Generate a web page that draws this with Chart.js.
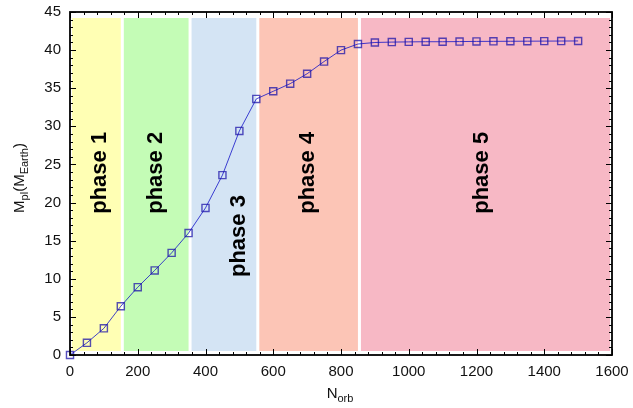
<!DOCTYPE html>
<html>
<head>
<meta charset="utf-8">
<script src="https://cdn.jsdelivr.net/npm/chart.js@4.4.1/dist/chart.umd.min.js"></script>
<style>
  html, body { margin: 0; padding: 0; background: #fff; }
  #wrap { width: 633px; height: 408px; }
</style>
</head>
<body>
<div id="wrap"><canvas id="myChart" width="633" height="408"></canvas></div>
<script>
// orbit number and planet mass (Earth masses)
const nOrb = [0, 50, 100, 150, 200, 250, 300, 350, 400, 450, 500, 550, 600, 650, 700, 750,
              800, 850, 900, 950, 1000, 1050, 1100, 1150, 1200, 1250, 1300, 1350, 1400, 1450, 1500];
const mPl = [0, 1.6, 3.5, 6.4, 8.9, 11.1, 13.4, 16.0, 19.3, 23.6, 29.4, 33.6, 34.6, 35.6, 36.9, 38.5,
             40.0, 40.8, 41.0, 41.05, 41.08, 41.1, 41.1, 41.12, 41.14, 41.15, 41.16, 41.17, 41.18, 41.19, 41.2];

// phases
const phaseNames = ['phase 1', 'phase 2', 'phase 3', 'phase 4', 'phase 5'];
const phaseFrom = [0, 150, 350, 550, 850];
const phaseTo = [150, 350, 550, 850, 1600];
const phaseColors = ['#ffffb4', '#c4fcb6', '#d4e4f4', '#fcc5b6', '#f7b8c5'];
const phaseLabelX = [88, 255, 498, 702, 1215];
const phaseLabelY = [23.9, 23.9, 15.6, 23.9, 23.9];

const xTicks = [0, 200, 400, 600, 800, 1000, 1200, 1400, 1600];
const yTicks = [0, 5, 10, 15, 20, 25, 30, 35, 40, 45];

const FONT = '"Liberation Sans", Arial, Helvetica, sans-serif';

const phasePlugin = {
    id: 'phases',
    beforeDatasetsDraw(chart) {
        const c = chart.ctx, xs = chart.scales.x, ys = chart.scales.y, a = chart.chartArea;
        c.save();
        for (let i = 0; i < phaseFrom.length; i++) {
            let l = xs.getPixelForValue(phaseFrom[i]) + (i === 0 ? 2 : 3);
            let r = xs.getPixelForValue(phaseTo[i]) - (i === phaseFrom.length - 1 ? 2 : 0);
            c.fillStyle = phaseColors[i];
            c.fillRect(l, a.top + 6, r - l, a.bottom - a.top - 10);
        }
        c.fillStyle = '#000';
        c.font = 'bold 22px ' + FONT;
        c.textAlign = 'center';
        c.textBaseline = 'middle';
        for (let i = 0; i < phaseNames.length; i++) {
            c.save();
            c.translate(xs.getPixelForValue(phaseLabelX[i]), ys.getPixelForValue(phaseLabelY[i]));
            c.rotate(-Math.PI / 2);
            c.fillText(phaseNames[i], 0, 0);
            c.restore();
        }
        c.restore();
    },
    afterDraw(chart) {
        const c = chart.ctx, xs = chart.scales.x, ys = chart.scales.y, a = chart.chartArea;
        c.save();
        // frame
        c.strokeStyle = '#000';
        c.lineWidth = 1.8;
        c.strokeRect(a.left, a.top, a.right - a.left, a.bottom - a.top);
        // inward ticks
        c.lineWidth = 1;
        c.beginPath();
        for (let v = 0; v <= 1600; v += 40) {
            const p = Math.round(xs.getPixelForValue(v)) + 0.5;
            const len = v % 200 === 0 ? 6 : 3;
            c.moveTo(p, a.bottom); c.lineTo(p, a.bottom - len);
            c.moveTo(p, a.top); c.lineTo(p, a.top + len);
        }
        for (let v = 0; v <= 45; v += 1) {
            const p = Math.round(ys.getPixelForValue(v)) + 0.5;
            const len = v % 5 === 0 ? 6 : 3;
            c.moveTo(a.left, p); c.lineTo(a.left + len, p);
            c.moveTo(a.right, p); c.lineTo(a.right - len, p);
        }
        c.stroke();

        // axis titles with subscripts
        c.fillStyle = '#111';
        c.textBaseline = 'alphabetic';
        c.textAlign = 'left';
        const big = '15px ' + FONT, small = '11px ' + FONT;
        function runs(parts) {
            let w = 0;
            parts.forEach(p => { c.font = p[1] ? small : big; w += c.measureText(p[0]).width; });
            return w;
        }
        function draw(parts, x, y) {
            parts.forEach(p => {
                c.font = p[1] ? small : big;
                c.fillText(p[0], x, y + (p[1] ? 4 : 0));
                x += c.measureText(p[0]).width;
            });
        }
        const xt = [['N', 0], ['orb', 1]];
        draw(xt, 340 - runs(xt) / 2, 398);
        const yt = [['M', 0], ['pl', 1], ['(M', 0], ['Earth', 1], [')', 0]];
        c.save();
        c.translate(24, 178);
        c.rotate(-Math.PI / 2);
        draw(yt, -runs(yt) / 2, 0);
        c.restore();
        c.restore();
    }
};

const ctx = document.getElementById('myChart').getContext('2d');
const myChart = new Chart(ctx, {
    type: 'line',
    data: {
        datasets: [{
            data: nOrb.map((x, i) => ({ x: x, y: mPl[i] })),
            borderColor: 'rgba(20, 20, 200, 0.8)',
            borderWidth: 1,
            pointStyle: 'rect',
            pointRadius: 5,
            pointBackgroundColor: 'rgba(0, 0, 0, 0)',
            pointBorderColor: 'rgba(30, 20, 170, 0.75)',
            pointBorderWidth: 1.4,
            tension: 0,
            clip: false
        }]
    },
    options: {
        responsive: false,
        animation: false,
        layout: { padding: { left: 0, right: 21, top: 12, bottom: 0 } },
        plugins: { legend: { display: false }, tooltip: { enabled: false } },
        scales: {
            x: {
                type: 'linear',
                min: 0,
                max: 1600,
                afterBuildTicks: s => { s.ticks = xTicks.map(v => ({ value: v })); },
                afterFit: s => { s.height = 53; s.paddingLeft = 0; s.paddingRight = 0; },
                grid: { display: false, drawTicks: false },
                border: { display: false },
                ticks: { padding: 8, color: '#111', font: { family: FONT, size: 15 }, callback: v => String(v) }
            },
            y: {
                min: 0,
                max: 45,
                afterBuildTicks: s => { s.ticks = yTicks.map(v => ({ value: v })); },
                afterFit: s => { s.width = 70; s.paddingTop = 0; s.paddingBottom = 0; },
                grid: { display: false, drawTicks: false },
                border: { display: false },
                ticks: { padding: 9, color: '#111', font: { family: FONT, size: 15 }, callback: v => String(v) }
            }
        }
    },
    plugins: [phasePlugin]
});
</script>
</body>
</html>
